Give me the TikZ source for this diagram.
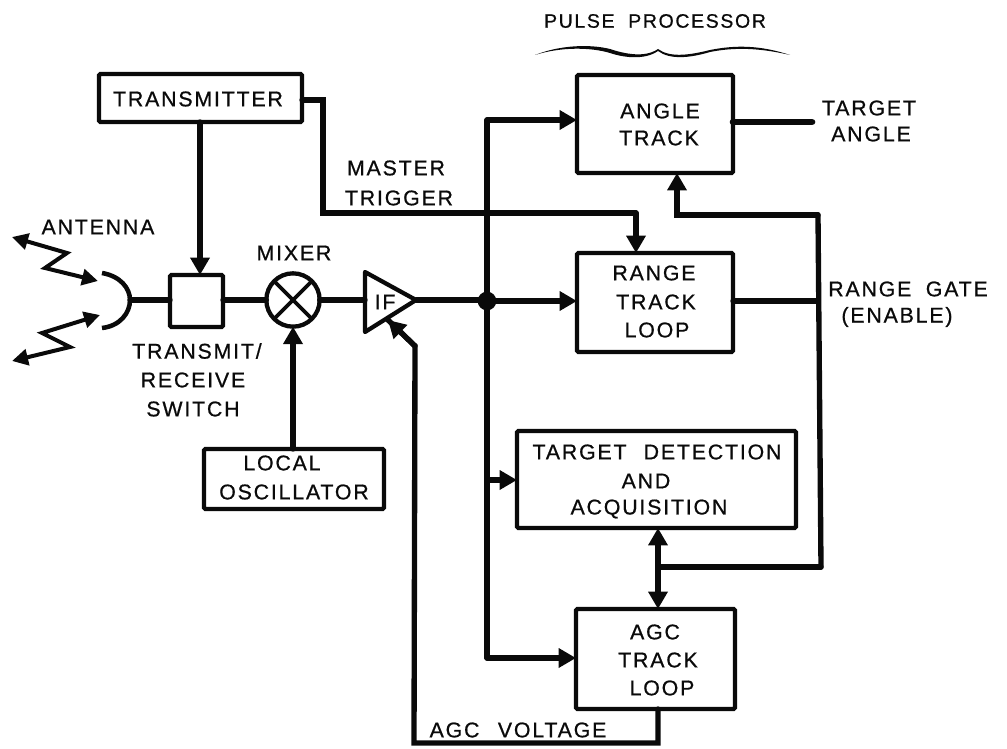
\documentclass[tikz,border=0pt]{standalone}
\usepackage{fontspec}
\setmainfont[LetterSpace=8.5,FakeBold=0.7]{Liberation Sans}
\usetikzlibrary{arrows.meta,calc}
\definecolor{ink}{HTML}{0A0A0A}
\tikzset{
  px/.style={x=0.75pt,y=-0.75pt},
  wire/.style={line width=4pt,line join=miter,line cap=round,draw=ink},
  arr/.style={wire,-{Triangle[length=13pt,width=14pt]}},
  darr/.style={wire,{Triangle[length=13pt,width=14pt]}-{Triangle[length=13pt,width=14pt]}},
  zig/.style={line width=3pt,draw=ink,line join=miter,{Triangle[length=12pt,width=12pt]}-{Triangle[length=12pt,width=12pt]}},
  blk/.style={draw=ink,line width=3.2pt,fill=white,inner sep=0pt,outer sep=0pt,anchor=north west,rounded corners=1pt},
  lbl/.style={text=ink,font=\fontsize{16}{16}\selectfont,inner sep=0pt,align=center}
}
\begin{document}
\begin{tikzpicture}[px]
\useasboundingbox (0,0) rectangle (1007,749);
% named points
\coordinate (tW) at (200,122);
\coordinate (tE) at (323,100);
\coordinate (tF) at (323,213);
\coordinate (tG) at (636,213);
\coordinate (jn) at (487,301);
\coordinate (busT) at (487,120);
\coordinate (busB) at (487,658);
\coordinate (busM) at (487,480);
\coordinate (rE) at (818,301);
\coordinate (rT) at (818,215);
\coordinate (rA) at (677,215);
\coordinate (rB) at (821,567);
\coordinate (rC) at (658,567);
\coordinate (ag1) at (658,743);
\coordinate (ag2) at (414,743);
\coordinate (ag3) at (415,346);
\coordinate (ag4) at (388,320);
\coordinate (tang) at (812,122);
\coordinate (wy) at (0,300);
% boxes (pixel sizes times 0.75)
\node[blk,minimum width=152.25pt,minimum height=36pt] (tx) at (99,74) {};
\node[blk,minimum width=39.75pt,minimum height=39pt] (sw) at (170,275) {};
\node[blk,minimum width=135pt,minimum height=45pt] (lo) at (204,449) {};
\node[blk,minimum width=117pt,minimum height=73.5pt] (at) at (577,75) {};
\node[blk,minimum width=117pt,minimum height=74.25pt] (rt) at (577,253) {};
\node[blk,minimum width=209.25pt,minimum height=72.75pt] (td) at (517,431) {};
\node[blk,minimum width=119.25pt,minimum height=75pt] (ag) at (576,609) {};
\node[circle,draw=ink,line width=3.2pt,fill=white,minimum size=40pt,inner sep=0pt,outer sep=0pt] (mx) at (293,300) {};
\draw[ink,line width=2.8pt] (mx.north west)--(mx.south east) (mx.north east)--(mx.south west);
\coordinate (ifA) at (365,272);
\coordinate (ifB) at (416,300);
\coordinate (ifC) at (365,332);
\draw[ink,line width=3.2pt,line join=round,fill=white] (ifA)--(ifB)--(ifC)--cycle;
\node[circle,fill=ink,minimum size=14pt,inner sep=0pt] (dot) at (jn) {};
% antenna
\coordinate (anC) at (130,300);
\coordinate (an1) at (102,273);
\coordinate (an2) at (102,328);
\draw[ink,line width=3.4pt] (an1) .. controls (120,276) and (130,288) .. (anC) .. controls (130,313) and (120,326) .. (an2);
\coordinate (z1) at (12,237);\coordinate (z2) at (67,253);\coordinate (z3) at (45,268);\coordinate (z4) at (98,281);
\coordinate (y1) at (100,315);\coordinate (y2) at (42,333);\coordinate (y3) at (70,347);\coordinate (y4) at (12,361);
\draw[zig] (z1)--(z2)--(z3)--(z4);
\draw[zig] (y1)--(y2)--(y3)--(y4);
% connectors
\draw[wire] (anC)--(anC-|sw.west);
\draw[wire] (sw.east|-wy)--(mx.west|-wy);
\draw[wire] (mx.east|-wy)--(ifA|-wy);
\draw[wire] (ifB)--(ifB-|jn);
\draw[arr] (jn)--(jn-|rt.west);
\draw[arr] (tW)--(tW|-sw.north);
\draw[arr] (mx.south|-lo.north)--(mx.south);
\draw[wire] (tx.east|-tE)--(tE)--(tF)--(tG);
\draw[arr] (tG)--(tG|-rt.north);
\draw[wire] (busT)--(busB);
\draw[arr] (busT)--(at.west|-busT);
\draw[arr] (busM)--(td.west|-busM);
\draw[arr] (busB)--(ag.west|-busB);
\draw[wire] (rt.east|-rE)--(rE);
\draw[wire] (rB)--(rT);
\draw[arr] (rT)--(rA)--(rA|-at.south);
\draw[wire] (rB)--(rC);
\draw[darr] (rC|-ag.north)--(rC|-td.south);
\draw[wire] (rC|-ag.south)--(ag1)--(ag2)--(ag3)--(ag4);
\draw[arr] (ag3)--(ag4);
\draw[wire,line width=5pt] (at.east|-tang)--(tang);
% brace
\coordinate (br1) at (535,55);\coordinate (brm) at (658,48);\coordinate (br2) at (790,55);
\fill[ink] (br1) .. controls (560,45) and (590,44) .. (610,49) .. controls (625,54) and (645,58) .. (658,49)
  .. controls (670,58) and (690,55) .. (710,50) .. controls (735,45) and (760,45) .. (br2)
  .. controls (760,48) and (735,47) .. (710,52) .. controls (690,58) and (670,60) .. (658,51)
  .. controls (645,60) and (625,58) .. (610,53) .. controls (590,47) and (560,47) .. (br1);
% labels
\node[lbl] (l1) at (198,99) {TRANSMITTER};
\node[lbl] (l2) at (98,227) {ANTENNA};
\node[lbl] (l3) at (294,253) {MIXER};
\node[lbl] (l4) at (197,351) {TRANSMIT/};
\node[lbl] (l5) at (193,380) {RECEIVE};
\node[lbl] (l6) at (193,409) {SWITCH};
\node[lbl] (l7) at (385,302) {IF};
\node[lbl] (l8) at (396,168) {MASTER};
\node[lbl] (l9) at (399,198) {TRIGGER};
\node[lbl] (l10) at (282,463) {LOCAL};
\node[lbl] (l11) at (294,492) {OSCILLATOR};
\node[lbl,font=\fontsize{14.6}{15}\selectfont] (l12) at (655,21) {PULSE\hspace{5pt} PROCESSOR};
\node[lbl] (l13) at (660,111) {ANGLE};
\node[lbl] (l14) at (659,138) {TRACK};
\node[lbl] (l15) at (869,108) {TARGET};
\node[lbl] (l16) at (871,134) {ANGLE};
\node[lbl] (l17) at (654,273) {RANGE};
\node[lbl] (l18) at (656,302) {TRACK};
\node[lbl] (l19) at (657,330) {LOOP};
\node[lbl] (l20) at (908,289) {RANGE\hspace{5pt} GATE};
\node[lbl] (l21) at (897,317) {(ENABLE)};
\node[lbl] (l22) at (657,452) {TARGET\hspace{7pt} DETECTION};
\node[lbl] (l23) at (646,481) {AND};
\node[lbl] (l24) at (649,509) {ACQUISITION};
\node[lbl] (l25) at (655,632) {AGC};
\node[lbl] (l26) at (658,660) {TRACK};
\node[lbl] (l27) at (662,688) {LOOP};
\node[lbl] (l28) at (518,730) {AGC\hspace{8pt} VOLTAGE};
\end{tikzpicture}
\end{document}
